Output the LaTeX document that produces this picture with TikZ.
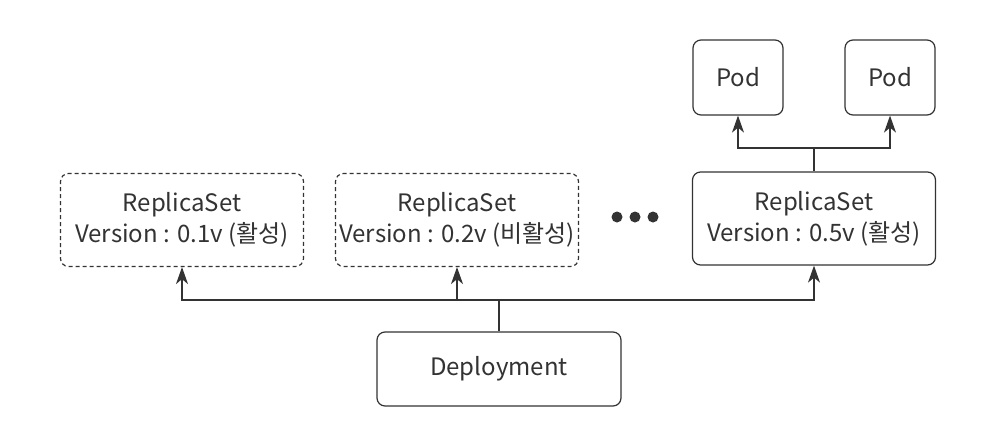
\documentclass[tikz,border=0pt]{standalone}
\usepackage{fontspec}
\setmainfont{Noto Sans CJK KR}
\usetikzlibrary{arrows.meta}
\definecolor{ink}{HTML}{333333}
\begin{document}
\begin{tikzpicture}[x=1pt,y=-1pt,
  box/.style={draw=ink, line width=1.2pt, rounded corners=8pt, minimum width=243pt,
    minimum height=93pt, align=center, text=ink, inner sep=0pt,
    font=\fontsize{24}{31}\selectfont},
  dbox/.style={box, dash pattern=on 4pt off 3pt},
  podbox/.style={box, minimum width=90pt, minimum height=75pt},
  depbox/.style={box, minimum width=244pt, minimum height=74pt},
  link/.style={draw=ink, line width=1.2pt},
  arr/.style={link, -{Stealth[length=17pt,width=12pt,inset=5pt]}},
  dotnode/.style={circle, fill=ink, inner sep=0pt, minimum size=11pt}]
\useasboundingbox (0,0) rectangle (1002,432);
\fill[white] (0,0) rectangle (1002,432);

\node[dbox] (rs1) at (182,220) {ReplicaSet\\Version : 0.1v (활성)};
\node[dbox] (rs2) at (457,220) {ReplicaSet\\Version : 0.2v (비활성)};
\node[box]  (rs3) at (814,218.5) {ReplicaSet\\Version : 0.5v (활성)};
\node[podbox] (pod1) at (738,77.5) {Pod};
\node[podbox] (pod2) at (890,77.5) {Pod};
\node[depbox] (dep) at (499,369) {Deployment};

\node[dotnode] (d1) at (617,217) {};
\node[dotnode] (d2) at (635,217) {};
\node[dotnode] (d3) at (653,217) {};

\coordinate (jd) at (499,300);
\coordinate (jp) at (814,148);

\draw[link] (dep.north) -- (jd);
\draw[arr] (jd) -| (rs1.south);
\draw[arr] (jd) -| (rs2.south);
\draw[arr] (jd) -| (rs3.south);

\draw[link] (rs3.north) -- (jp);
\draw[arr] (jp) -| (pod1.south);
\draw[arr] (jp) -| (pod2.south);
\end{tikzpicture}
\end{document}
